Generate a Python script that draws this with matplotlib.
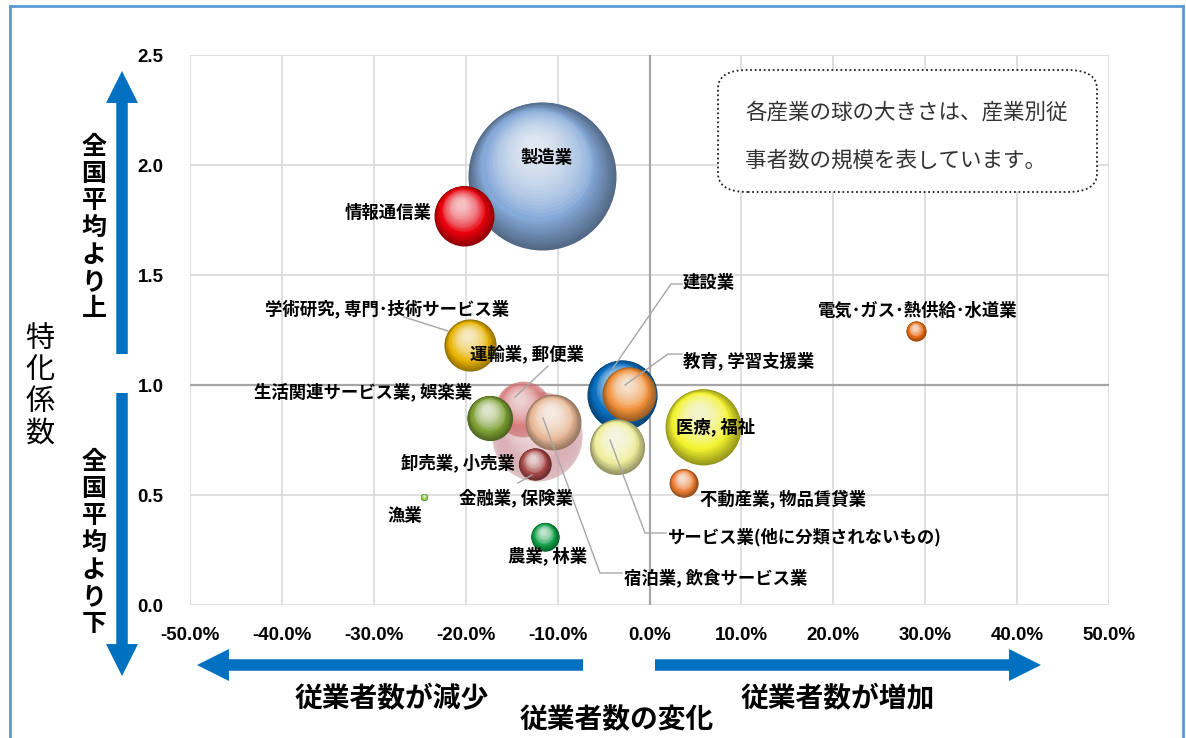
import numpy as np
import matplotlib
matplotlib.use("Agg")
import matplotlib.pyplot as plt
from matplotlib.colors import to_rgb
from matplotlib.patches import FancyBboxPatch, FancyArrowPatch
from matplotlib.lines import Line2D
from matplotlib.transforms import offset_copy
from matplotlib.ticker import FuncFormatter, MultipleLocator

plt.rcParams['font.family'] = ['Noto Sans CJK JP', 'DejaVu Sans']

industries = ['製造業', '情報通信業', '卸売業, 小売業', '運輸業, 郵便業',
              '生活関連サービス業, 娯楽業', '宿泊業, 飲食サービス業', '金融業, 保険業',
              '建設業', '教育, 学習支援業', 'サービス業(他に分類されないもの)',
              '医療, 福祉', '不動産業, 物品賃貸業', '学術研究, 専門･技術サービス業',
              '漁業', '農業, 林業', '電気･ガス･熱供給･水道業']
# 従業者数の変化 (%)
change = [-11.7, -20.2, -12.2, -13.8, -17.4, -10.5, -12.5,
          -3.0, -2.2, -3.5, 5.8, 3.7, -19.5, -24.5, -11.4, 29.0]
# 特化係数
coef = [1.95, 1.77, 0.77, 0.89, 0.85, 0.83, 0.64,
        0.955, 0.96, 0.72, 0.81, 0.555, 1.18, 0.49, 0.31, 1.245]
# 従業者数の規模 (相対値)
workers = [548, 90, 203, 78, 51, 78, 26, 123, 73, 76, 144, 20, 68, 1.2, 20, 10]
colors = ['#85A9D8', '#E8000B', '#F0B8BE', '#F07F82', '#7DA035', '#E9B896', '#A84848',
          '#0A6FC0', '#F0913A', '#EEEE9C', '#F2F22E', '#EC7C34', '#E9B300',
          '#8CC43C', '#0FA046', '#E56A12']
translucent = [False, False, True, True, False, False, False,
               False, False, False, False, False, False, False, False, False]

fig = plt.figure(figsize=(11.86, 7.38), dpi=100)
ax = fig.add_axes([190 / 1186, 1 - 605 / 738, 919 / 1186, 550 / 738])
ax.set_xlim(-50, 50)
ax.set_ylim(0, 2.5)
ax.xaxis.set_major_locator(MultipleLocator(10))
ax.yaxis.set_major_locator(MultipleLocator(0.5))
ax.xaxis.set_major_formatter(FuncFormatter(lambda v, p: f'{v:.1f}%'))
ax.yaxis.set_major_formatter(FuncFormatter(lambda v, p: f'{v:.1f}'))
ax.grid(True, color='#D9D9D9', lw=1.2)
ax.set_axisbelow(True)
for s in ax.spines.values():
    s.set_visible(False)
ax.tick_params(length=0)
ax.tick_params(axis='x', pad=16)
ax.tick_params(axis='y', pad=19)
for lab in ax.get_xticklabels() + ax.get_yticklabels():
    lab.set_family(['Liberation Sans Narrow', 'Liberation Sans'])
    lab.set_fontweight('bold')
    lab.set_fontsize(13.5)
ax.axvline(0, color='#A6A6A6', lw=1.6, zorder=1)
ax.axhline(1.0, color='#A6A6A6', lw=1.6, zorder=1)

px = 72 / fig.dpi


def sphere(x, y, size, color, clear, z):
    r = np.sqrt(size * 10)  # radius in pixels
    c = np.array(to_rgb(color))
    dark = c * (0.85 if clear else 0.62)
    ax.scatter([x], [y], s=(2 * r * px) ** 2, color=dark,
               alpha=0.62 if clear else 1.0, lw=0, zorder=z)
    n = 14
    for i in range(1, n + 1):
        f = i / n
        rr = r * (1 - 0.25 * f)
        sh = (r - rr)
        tr = offset_copy(ax.transData, fig=fig, x=-0.3 * sh * px, y=0.6 * sh * px, units='points')
        col = dark * (1 - f) + c * f
        ax.scatter([x], [y], s=(2 * rr * px) ** 2, color=col, lw=0,
                   alpha=0.06 if clear else 1.0, transform=tr, zorder=z)
    m = 16
    for i in range(m):
        f = i / m
        rr = r * (0.72 - 0.6 * f)
        sh = r * 0.3
        tr = offset_copy(ax.transData, fig=fig, x=-0.25 * sh * px * (0.5 + f),
                         y=sh * px * (0.6 + 0.7 * f), units='points')
        ax.scatter([x], [y], s=(2 * rr * px) ** 2, color='white', lw=0,
                   alpha=0.07 if clear else 0.085, transform=tr, zorder=z)


for i in range(len(industries)):
    sphere(change[i], coef[i], workers[i], colors[i], translucent[i], 3 + i * 0.01)


def pix(xp, yp):
    # picture pixels (top-left origin) -> data coordinates
    return ax.transData.inverted().transform((xp, 738 - yp))


def label(text, xp, yp, ha='center', size=12.5):
    x, y = pix(xp, yp)
    ax.text(x, y, text, ha=ha, va='center', fontsize=size, fontweight='bold', zorder=10)


def leader(points):
    pts = np.array([pix(a, b) for a, b in points])
    ax.add_line(Line2D(pts[:, 0], pts[:, 1], color='#A6A6A6', lw=1.0, zorder=9))


fig.canvas.draw()

label(industries[0], 547, 158)
label(industries[1], 432, 213, ha='right')
label(industries[2], 515, 463, ha='right')
label(industries[3], 470, 354, ha='left')
label(industries[4], 472, 392, ha='right')
label(industries[5], 624, 578, ha='left')
label(industries[6], 516, 498)
label(industries[7], 683, 283, ha='left')
label(industries[8], 683, 361, ha='left')
label(industries[9], 668, 537, ha='left')
label(industries[10], 716, 427)
label(industries[11], 700, 499, ha='left')
label(industries[12], 387, 309)
label(industries[13], 405, 516)
label(industries[14], 548, 556)
label(industries[15], 918, 311)

leader([(404, 317), (448, 331)])
leader([(548, 366), (515, 397)])
leader([(518, 483), (532, 475)])
leader([(622, 573), (600, 573), (543, 418)])
leader([(666, 533), (645, 533), (610, 440)])
leader([(682, 284), (671, 284), (613, 368)])
leader([(682, 354), (668, 354), (625, 385)])

# dotted note box
box = FancyBboxPatch((718 / 1186, 1 - 192 / 738), 379 / 1186, 122 / 738,
                     boxstyle='round,pad=0,rounding_size=0.025', transform=fig.transFigure,
                     fc='white', ec='#222222', lw=1.3, ls=(0, (1, 1.5)), zorder=20)
fig.add_artist(box)
fig.text(745 / 1186, 1 - 113 / 738, '各産業の球の大きさは、産業別従', fontsize=15.5,
         va='center', ha='left', color='#333333', zorder=21)
fig.text(745 / 1186, 1 - 161 / 738, '事者数の規模を表しています。', fontsize=15.5,
         va='center', ha='left', color='#333333', zorder=21)


def arrow(x0, y0, x1, y1):
    a = FancyArrowPatch((x0, 738 - y0), (x1, 738 - y1), transform=None,
                        arrowstyle='simple,head_length=1.0,head_width=1.0,tail_width=0.36',
                        mutation_scale=23, color='#0070C0', lw=0, shrinkA=0, shrinkB=0)
    fig.add_artist(a)


arrow(122, 354, 122, 71)
arrow(122, 393, 122, 676)
arrow(583, 665, 197, 665)
arrow(655, 665, 1041, 665)


def vtext(xp, y0, y1, text, size, weight):
    n = len(text)
    for k, ch in enumerate(text):
        yp = y0 + (y1 - y0) * (k + 0.5) / n
        fig.text(xp / 1186, 1 - yp / 738, ch, fontsize=size, fontweight=weight,
                 ha='center', va='center')


vtext(94, 133, 323, '全国平均より上', 18, 'bold')
vtext(94, 448, 638, '全国平均より下', 18, 'bold')
vtext(40, 323, 449, '特化係数', 21, 'normal')

fig.text(392 / 1186, 1 - 699 / 738, '従業者数が減少', fontsize=20, fontweight='bold',
         ha='center', va='center')
fig.text(838 / 1186, 1 - 699 / 738, '従業者数が増加', fontsize=20, fontweight='bold',
         ha='center', va='center')
fig.text(617 / 1186, 1 - 720 / 738, '従業者数の変化', fontsize=20, fontweight='bold',
         ha='center', va='center')

# page frame
for seg in [((10, 10), (0, 732)), ((10, 1183), (732, 732)), ((1183, 1183), (732, 0))]:
    fig.add_artist(Line2D(np.array(seg[0]) / 1186, np.array(seg[1]) / 738,
                          transform=fig.transFigure, color='#5B9BD5', lw=2))

fig.savefig('out.png', dpi=100)
